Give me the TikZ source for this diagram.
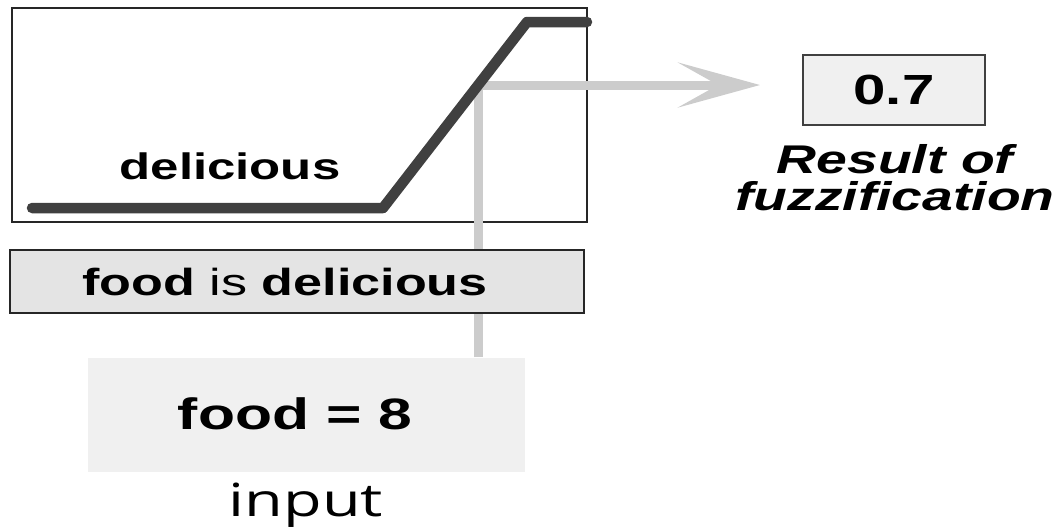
\documentclass[tikz,border=0pt]{standalone}
\usepackage{fontspec}
\setmainfont{Liberation Sans}[FakeStretch=1.38]
\newfontfamily\captionfont{Open Sans}[FakeStretch=1.38]
\usepackage{xcolor}
\usepackage{tikz}
\usetikzlibrary{arrows.meta}
\definecolor{curvegray}{HTML}{404040}
\definecolor{probegray}{HTML}{CCCCCC}
\definecolor{rulefill}{HTML}{E4E4E4}
\definecolor{softfill}{HTML}{F0F0F0}
\tikzset{
panel/.style = {rectangle, draw=black!85, line width=1pt, inner sep=0pt, minimum width = #1},
panel/.default = 1cm, % width of the panel
probe/.style = {draw=probegray, line width=0.18cm, line join=miter},
mf/.style = {draw=curvegray, line width=0.21cm, line cap=round, line join=round},
}

\begin{document}
\begin{tikzpicture}[x=0.02cm, y=-0.02cm]
    \useasboundingbox (0,0) rectangle (1056,529);
    % membership function panel
    \node[panel=11.5cm, minimum height=4.28cm, fill=white] (mfbox) at (299.5,115) {};
    \node[font=\bfseries\fontsize{21}{25}\selectfont] (mfname) at (230,166) {delicious};
    \coordinate (hit) at (478,85);
    \coordinate (tip) at (760,85);
    \node[panel=8.74cm, minimum height=2.28cm, draw=none, fill=softfill] (inbox) at (306.5,415) {};
    \node[font=\bfseries\fontsize{25}{30}\selectfont] (intext) at (295,414) {food = 8};
    \node[font=\captionfont\fontsize{26}{30}\selectfont] (inlabel) at (306,505) {input};
    \draw[probe, -{Stealth[length=1.64cm, width=0.9cm, inset=0.8cm]}] (hit |- inbox.north) -- (hit) -- (tip);
    \draw[mf] (32,208) -- (383,208) -- (527,22) -- (587,22);
    \node[panel=11.48cm, minimum height=1.26cm, fill=rulefill] (rule) at (297,281.5) {};
    \node[font=\fontsize{21.5}{25}\selectfont] (ruletext) at (285,282) {\textbf{food} is \textbf{delicious}};
    % result
    \node[panel=3.64cm, minimum height=1.4cm, fill=softfill, draw=black!75,
          font=\bfseries\fontsize{24}{28}\selectfont] (res) at (894,90) {0.7};
    \node[align=center, font=\bfseries\itshape\fontsize{22.8}{21}\selectfont] (reslabel) at (895,178) {Result of\\fuzzification};
\end{tikzpicture}
\end{document}
